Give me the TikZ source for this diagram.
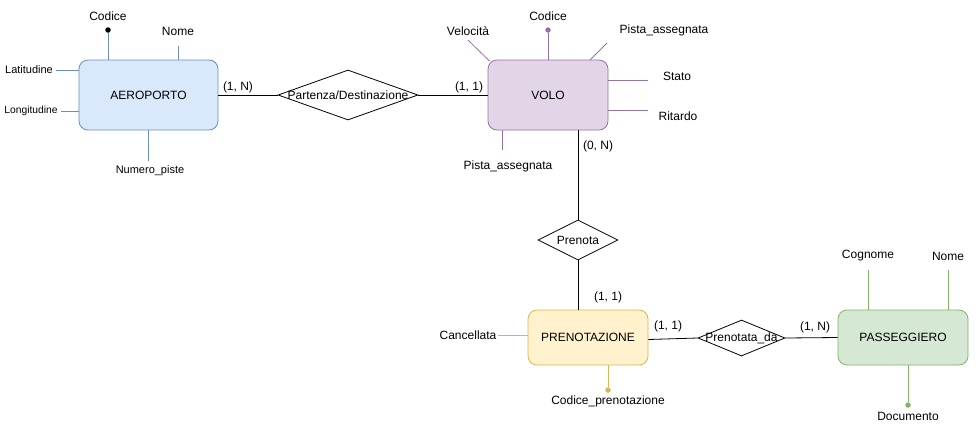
\documentclass[tikz,border=0pt]{standalone}
\usepackage{fontspec}
\setmainfont{Liberation Sans}
\usetikzlibrary{shapes.geometric,calc}
\definecolor{bfill}{HTML}{DAE8FC}\definecolor{bline}{HTML}{6C8EBF}
\definecolor{pfill}{HTML}{E1D5E7}\definecolor{pline}{HTML}{9673A6}
\definecolor{yfill}{HTML}{FFF2CC}\definecolor{yline}{HTML}{D6B656}
\definecolor{gfill}{HTML}{D5E8D4}\definecolor{gline}{HTML}{82B366}
\tikzset{
  entity/.style={draw, rounded corners=9pt, inner sep=0pt, line width=0.8pt, font=\fontsize{12}{14}\selectfont},
  rel/.style={draw, diamond, inner sep=0pt, line width=0.8pt, label={[font=\fontsize{12}{14}\selectfont]center:#1}},
  attr/.style={inner sep=0pt, font=\fontsize{12}{14}\selectfont},
  sattr/.style={inner sep=0pt, font=\fontsize{11}{13}\selectfont},
  xsattr/.style={inner sep=0pt, font=\fontsize{10.3}{12}\selectfont},
  card/.style={inner sep=0pt, font=\fontsize{12}{14}\selectfont},
  conn/.style={draw, line width=0.8pt},
  keydot/.style={circle, fill=#1, inner sep=0pt, minimum size=5.5pt},
}
\begin{document}
\begin{tikzpicture}[x=1pt,y=-1pt]
\useasboundingbox (0,0) rectangle (979,431);
% entities
\node[entity, fill=bfill, draw=bline, minimum width=139pt, minimum height=70pt] (aero) at (148.5,95) {AEROPORTO};
\node[entity, fill=pfill, draw=pline, minimum width=120pt, minimum height=70pt] (volo) at (548,95) {VOLO};
\node[entity, fill=yfill, draw=yline, minimum width=120pt, minimum height=55pt] (pren) at (588,337.5) {PRENOTAZIONE};
\node[entity, fill=gfill, draw=gline, minimum width=130pt, minimum height=55pt] (pass) at (903,337.5) {PASSEGGIERO};
% relations
\node[rel=Partenza/Destinazione, minimum width=140pt, minimum height=50pt] (pd) at (348,95) {};
\node[rel=Prenota, minimum width=80pt, minimum height=40pt] (prenota) at (578,240) {};
\node[rel=Prenotata\_da, minimum width=87pt, minimum height=36pt] (pda) at (741.5,338) {};
% relationship connectors
\draw[conn] (aero.east) -- (pd.west);
\draw[conn] (pd.east) -- (volo.west);
\draw[conn] (volo.south -| prenota.north) -- (prenota.north);
\draw[conn] (prenota.south) -- (pren.north -| prenota.south);
\draw[conn] ($(pren.east)+(0,2)$) -- (pda.west);
\draw[conn] (pda.east) -- (pass.west);
% cardinalities
\node[card] (c1) at (238,87) {(1, N)};
\node[card] (c2) at (469,87) {(1, 1)};
\node[card] (c3) at (598,146) {(0, N)};
\node[card] (c4) at (608,297) {(1, 1)};
\node[card] (c5) at (668,326) {(1, 1)};
\node[card] (c6) at (815,327) {(1, N)};
% AEROPORTO attributes
\node[attr] (acod) at (108,16) {Codice};
\node[keydot=black] (acodd) at (108,30) {};
\draw[bline, line width=0.8pt] (aero.north -| acodd) -- (acodd);
\node[attr] (anome) at (178,31) {Nome};
\coordinate (anomee) at (178,46);
\draw[bline, line width=0.8pt] (aero.north -| anomee) -- (anomee);
\node[sattr] (alat) at (29,70) {Latitudine};
\coordinate (alate) at (56,70);
\draw[bline, line width=0.8pt] (aero.west |- alate) -- (alate);
\node[xsattr] (alon) at (31,111) {Longitudine};
\coordinate (alone) at (61,111);
\draw[bline, line width=0.8pt] (aero.west |- alone) -- (alone);
\node[sattr] (anum) at (150,171) {Numero\_piste};
\coordinate (anume) at (148,161);
\draw[bline, line width=0.8pt] (aero.south -| anume) -- (anume);
% VOLO attributes
\node[attr] (vcod) at (548,16) {Codice};
\node[keydot=pline] (vcodd) at (548,30) {};
\draw[pline, line width=0.8pt] (volo.north -| vcodd) -- (vcodd);
\node[attr] (vvel) at (468,31) {Velocità};
\coordinate (vvele) at (468,40);
\draw[pline, line width=0.8pt] (489.5,61) -- (vvele);
\node[attr] (vpa1) at (664,30) {Pista\_assegnata};
\coordinate (vpa1e) at (607,43);
\draw[pline, line width=0.8pt] (590,60) -- (vpa1e);
\node[attr] (vsta) at (677,76) {Stato};
\coordinate (vstae) at (648,80);
\draw[pline, line width=0.8pt] (volo.east |- vstae) -- (vstae);
\node[attr] (vrit) at (678,116) {Ritardo};
\coordinate (vrite) at (648,110);
\draw[pline, line width=0.8pt] (volo.east |- vrite) -- (vrite);
\node[attr] (vpa2) at (508,166) {Pista\_assegnata};
\coordinate (vpa2e) at (502,150);
\draw[pline, line width=0.8pt] (volo.south -| vpa2e) -- (vpa2e);
% PRENOTAZIONE attributes
\node[attr] (pcanc) at (468,335) {Cancellata};
\coordinate (pcance) at (498,335);
\draw[yline, line width=0.8pt] (pren.west |- pcance) -- (pcance);
\node[attr] (pcod) at (608,401) {Codice\_prenotazione};
\node[keydot=yline] (pcodd) at (608,390) {};
\draw[yline, line width=0.8pt] (pren.south -| pcodd) -- (pcodd);
% PASSEGGIERO attributes
\node[attr] (gcog) at (868,256) {Cognome};
\coordinate (gcoge) at (868,270);
\draw[gline, line width=0.8pt] (pass.north -| gcoge) -- (gcoge);
\node[attr] (gnom) at (948,256) {Nome};
\coordinate (gnome) at (948,270);
\draw[gline, line width=0.8pt] (pass.north -| gnome) -- (gnome);
\node[attr] (gdoc) at (908,416) {Documento};
\node[keydot=gline] (gdocd) at (908,405) {};
\draw[gline, line width=0.8pt] (pass.south -| gdocd) -- (gdocd);
\end{tikzpicture}
\end{document}
